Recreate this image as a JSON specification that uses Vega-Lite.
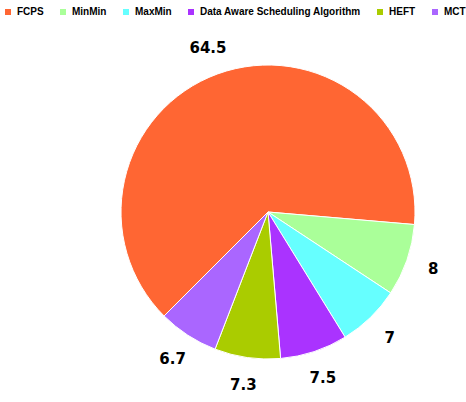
{
  "$schema": "https://vega.github.io/schema/vega-lite/v6.json",
  "autosize": "none",
  "width": 396,
  "height": 380,
  "padding": {"left": 70, "top": 22, "right": 0, "bottom": 0},
  "background": "white",
  "config": {"view": {"stroke": null}},
  "data": {
    "values": [
      {"algorithm": "FCPS", "value": 64.5, "order": 1},
      {"algorithm": "MinMin", "value": 8, "order": 2},
      {"algorithm": "MaxMin", "value": 7, "order": 3},
      {"algorithm": "Data Aware Scheduling Algorithm", "value": 7.5, "order": 4},
      {"algorithm": "HEFT", "value": 7.3, "order": 5},
      {"algorithm": "MCT", "value": 6.7, "order": 6}
    ]
  },
  "encoding": {
    "theta": {
      "field": "value",
      "type": "quantitative",
      "stack": true,
      "scale": {"range": [3.927, 10.21]}
    },
    "order": {"field": "order", "type": "quantitative"},
    "color": {
      "field": "algorithm",
      "type": "nominal",
      "scale": {
        "domain": ["FCPS", "MinMin", "MaxMin", "Data Aware Scheduling Algorithm", "HEFT", "MCT"],
        "range": ["#ff6633", "#aaff99", "#66ffff", "#aa33ff", "#aacc00", "#aa66ff"]
      },
      "legend": {
        "orient": "none",
        "legendX": -67,
        "legendY": -15,
        "direction": "horizontal",
        "title": null,
        "symbolType": "square",
        "symbolSize": 36,
        "symbolStrokeWidth": 0,
        "labelFont": "Liberation Sans",
        "labelFontWeight": "bold",
        "labelFontSize": 10,
        "labelColor": "#000000",
        "labelLimit": 0,
        "columnPadding": 14,
        "labelOffset": 4
      }
    }
  },
  "layer": [
    {
      "mark": {"type": "arc", "outerRadius": 147, "stroke": "white", "strokeWidth": 1}
    },
    {
      "mark": {
        "type": "text",
        "radius": 175,
        "font": "DejaVu Sans",
        "fontWeight": "bold",
        "fontSize": 15,
        "fill": "#000000"
      },
      "encoding": {
        "text": {"field": "value", "type": "quantitative"},
        "color": {"value": "#000000"}
      }
    }
  ]
}
